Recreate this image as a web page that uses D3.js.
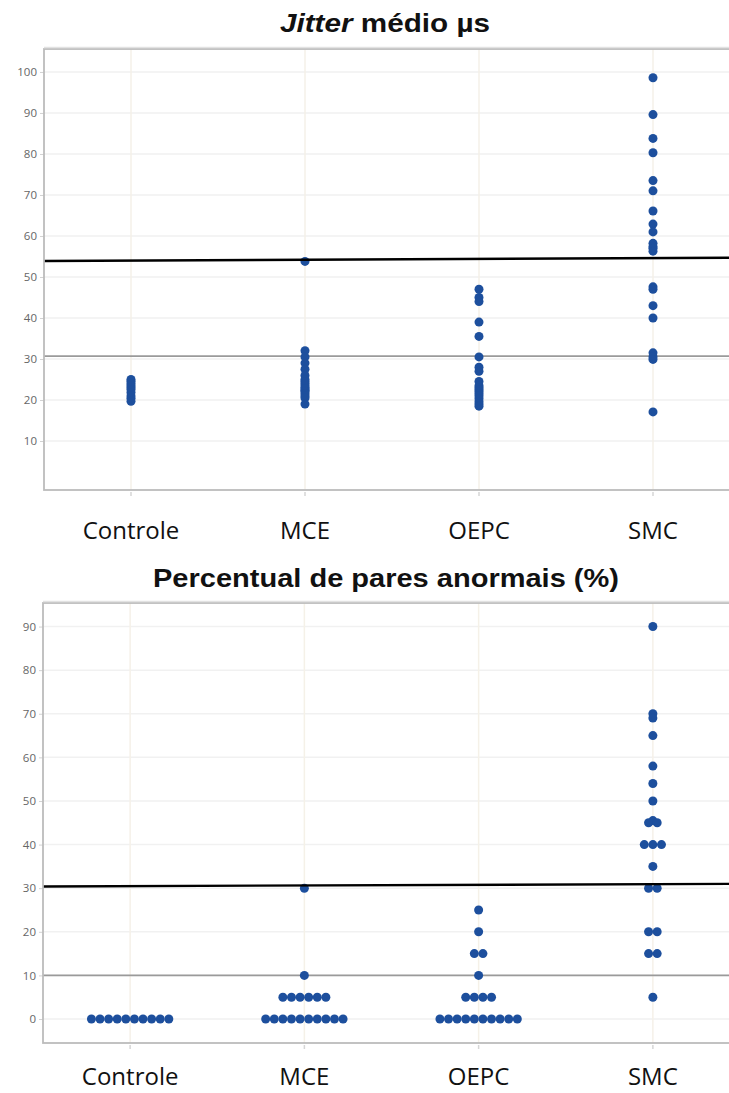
<!DOCTYPE html>
<html>
<head>
<meta charset="utf-8">
<script src="https://cdn.jsdelivr.net/npm/d3@7"></script>
<style>
  body { margin: 0; background: #fff; }
  svg { display: block; }
</style>
</head>
<body>
<svg id="chart" width="729" height="1093"></svg>
<script>
// ---- data ----
const groups = ["Controle", "MCE", "OEPC", "SMC"];

// mean jitter (µs) per subject
const jitterControle = [25, 24.6, 24, 23.5, 23, 22.5, 21.8, 21, 20.4, 19.7];
const jitterMCE = [53.8, 32, 30.5, 29, 27.5, 26, 25, 24.5, 24, 23.5, 23, 22.7, 22.3, 22, 21.5, 21, 20.5, 19];
const jitterOEPC = [47, 45, 44, 39, 35.5, 30.5, 28, 27, 24.5, 23.5, 23, 22.5, 22, 21.5, 21, 20.3, 19.6, 19, 18.5];
const jitterSMC = [98.6, 89.6, 83.8, 80.3, 73.5, 71, 66.1, 62.9, 61, 58.2, 57.4, 57, 56.3, 47.6, 47, 43, 40, 31.5, 30.5, 29.9, 17.1];

// percentage of abnormal pairs per subject
const pctControle = [0, 0, 0, 0, 0, 0, 0, 0, 0, 0];
const pctMCE = [30, 10, 5, 5, 5, 5, 5, 5, 0, 0, 0, 0, 0, 0, 0, 0, 0, 0];
const pctOEPC = [25, 20, 15, 15, 10, 5, 5, 5, 5, 0, 0, 0, 0, 0, 0, 0, 0, 0, 0];
const pctSMC = [90, 70, 69, 65, 58, 54, 50, 45.5, 45, 45, 40, 40, 40, 35, 30, 30, 20, 20, 15, 15, 5];

const jitterTicks = [10, 20, 30, 40, 50, 60, 70, 80, 90, 100];
const pctTicks = [0, 10, 20, 30, 40, 50, 60, 70, 80, 90];

// reference lines: black line given by its left and right end values
const jitterRefLine = [53.9, 54.7];
const jitterGreyLine = 30.7;
const pctRefLine = [30.4, 31.0];
const pctGreyLine = 10;

// ---- drawing ----
const svg = d3.select("#chart");
const DOT_R = 4.5;
const DOT_STEP = 8.6;
const DOT_COLOR = "#1d4f9d";

function panel(cfg) {
  const g = svg.append("g");
  const x = d3.scalePoint().domain(groups).range([cfg.left, cfg.right]).padding(0.5);
  const y = d3.scaleLinear().domain(cfg.domain).range([cfg.bottom, cfg.top]);

  // plot background and faint grid
  g.append("rect")
    .attr("x", cfg.left).attr("y", cfg.top)
    .attr("width", cfg.right - cfg.left).attr("height", cfg.bottom - cfg.top)
    .attr("fill", "#fff");

  g.selectAll(".hgrid").data(cfg.ticks).join("line")
    .attr("x1", cfg.left).attr("x2", cfg.right)
    .attr("y1", d => y(d)).attr("y2", d => y(d))
    .attr("stroke", "#f1f1f1").attr("stroke-width", 1.5);

  g.selectAll(".vgrid").data(groups).join("line")
    .attr("x1", d => x(d)).attr("x2", d => x(d))
    .attr("y1", cfg.top).attr("y2", cfg.bottom)
    .attr("stroke", "#f5f1e8").attr("stroke-width", 1.5);

  // y axis: labels and tiny ticks
  const yAxis = d3.axisLeft(y).tickValues(cfg.ticks).tickSize(4).tickPadding(3);
  const ya = g.append("g").attr("transform", `translate(${cfg.left},0)`).call(yAxis);
  ya.select(".domain").remove();
  ya.selectAll(".tick line").attr("stroke", "#d2d2d2");
  ya.selectAll(".tick text")
    .attr("fill", "#666")
    .style("font-family", "'Open Sans', sans-serif")
    .style("font-size", "11.5px");

  // x axis: tiny ticks under the frame and category labels
  g.selectAll(".xtick").data(groups).join("line")
    .attr("x1", d => x(d)).attr("x2", d => x(d))
    .attr("y1", cfg.bottom + 2).attr("y2", cfg.bottom + 6)
    .attr("stroke", "#d6d6d6").attr("stroke-width", 1.5);

  g.selectAll(".xlabel").data(groups).join("text")
    .attr("x", d => x(d)).attr("y", cfg.labelY)
    .attr("text-anchor", "middle")
    .attr("fill", "#111")
    .style("font-family", "'Open Sans', sans-serif")
    .style("font-size", "24px")
    .text(d => d);

  // thin grey reference line
  g.append("line")
    .attr("x1", cfg.left).attr("x2", cfg.right)
    .attr("y1", y(cfg.greyLine)).attr("y2", y(cfg.greyLine))
    .attr("stroke", "#9a9a9a").attr("stroke-width", 1.6);

  // dots: equal values share a centred row
  cfg.series.forEach((vals, i) => {
    const cat = groups[i];
    const counts = d3.rollup(vals, v => v.length, d => d);
    const seen = new Map();
    const pts = vals.map(v => {
      const n = counts.get(v);
      const k = seen.get(v) || 0;
      seen.set(v, k + 1);
      return { v, dx: (k - (n - 1) / 2) * DOT_STEP };
    });
    g.selectAll(null).data(pts).join("circle")
      .attr("cx", d => x(cat) + d.dx)
      .attr("cy", d => y(d.v))
      .attr("r", DOT_R)
      .attr("fill", DOT_COLOR);
  });

  // black reference line
  g.append("line")
    .attr("x1", cfg.left).attr("x2", cfg.right)
    .attr("y1", y(cfg.refLine[0])).attr("y2", y(cfg.refLine[1]))
    .attr("stroke", "#000").attr("stroke-width", 2.4);

  // frame
  g.append("rect")
    .attr("x", cfg.left).attr("y", cfg.top)
    .attr("width", cfg.right - cfg.left).attr("height", cfg.bottom - cfg.top)
    .attr("fill", "none").attr("stroke", "#bcbcbc").attr("stroke-width", 1.8);
  g.append("line")
    .attr("x1", cfg.left).attr("x2", cfg.right)
    .attr("y1", cfg.top - 1.5).attr("y2", cfg.top - 1.5)
    .attr("stroke", "#e2e2e2").attr("stroke-width", 1.5);

  // title
  const t = svg.append("text")
    .attr("x", cfg.titleX).attr("y", cfg.titleY)
    .attr("text-anchor", "middle")
    .attr("textLength", cfg.titleWidth)
    .attr("lengthAdjust", "spacingAndGlyphs")
    .attr("fill", "#111")
    .style("font-family", "'Liberation Sans', Arial, sans-serif")
    .style("font-weight", "bold")
    .style("font-size", "25px");
  cfg.title.forEach(part => {
    t.append("tspan").style("font-style", part.italic ? "italic" : "normal").text(part.text);
  });
}

panel({
  left: 44, right: 740, top: 49, bottom: 490,
  domain: [-1.95, 105.6],
  ticks: jitterTicks,
  series: [jitterControle, jitterMCE, jitterOEPC, jitterSMC],
  refLine: jitterRefLine,
  greyLine: jitterGreyLine,
  labelY: 539,
  title: [{ text: "Jitter", italic: true }, { text: " médio µs", italic: false }],
  titleX: 385, titleY: 32, titleWidth: 210
});

panel({
  left: 43, right: 740, top: 603, bottom: 1043,
  domain: [-5.5, 95.4],
  ticks: pctTicks,
  series: [pctControle, pctMCE, pctOEPC, pctSMC],
  refLine: pctRefLine,
  greyLine: pctGreyLine,
  labelY: 1085,
  title: [{ text: "Percentual de pares anormais (%)", italic: false }],
  titleX: 386, titleY: 587, titleWidth: 466
});
</script>
</body>
</html>
